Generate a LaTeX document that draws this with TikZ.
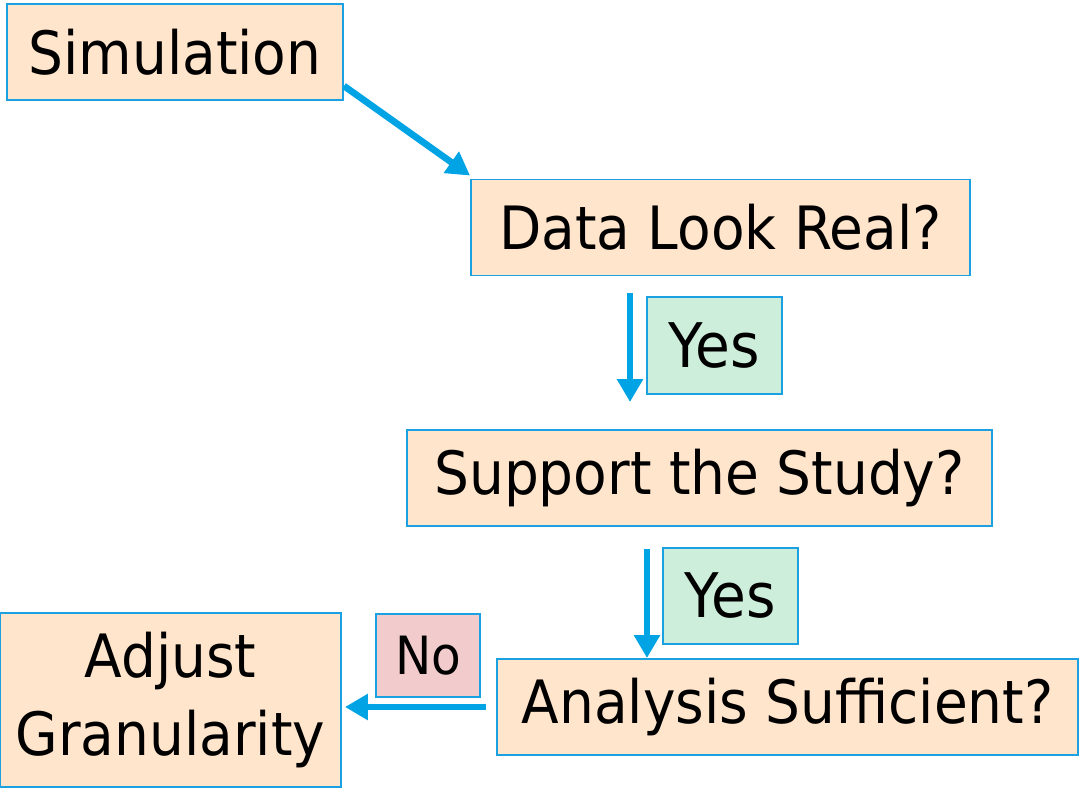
\documentclass[tikz,border=0pt]{standalone}
\usepackage{fontspec}
\setmainfont{DejaVu Sans}[FakeStretch=0.92]
\usetikzlibrary{calc,arrows.meta}

\definecolor{boxfill}{HTML}{FFE5CC}
\definecolor{boxline}{HTML}{1BA1E2}
\definecolor{arrowblue}{HTML}{00A3E4}
\definecolor{yesfill}{HTML}{CCEEDA}
\definecolor{nofill}{HTML}{F2CCCC}

\tikzset{
    stepbox/.style={draw=boxline, line width=1.1pt, fill=boxfill, inner sep=0pt,
        minimum height=1.92cm, font=\fontsize{34}{40}\selectfont},
    answer/.style={draw=boxline, line width=1.1pt, inner sep=0pt,
        font=\fontsize{35}{40}\selectfont},
    flow/.style={arrowblue, line width=3.8pt, -{Triangle[length=0.46cm,width=0.5cm]}}
}

\begin{document}
\begin{tikzpicture}
    \useasboundingbox (0,0) rectangle (21.78,-15.88);

    \node[stepbox, minimum width=6.72cm] (sim) at (3.50,-1.04) {Simulation};
    \node[stepbox, minimum width=9.98cm] (data) at (14.41,-4.55) {Data Look Real?};
    \node[stepbox, minimum width=11.70cm] (support) at (13.99,-9.56) {Support the Study?};
    \node[stepbox, minimum width=11.62cm] (analysis) at (15.75,-14.14) {Analysis Sufficient?};
    \node[stepbox, minimum width=6.82cm, minimum height=3.48cm, align=center,
        font=\fontsize{34}{44}\selectfont] (adjust) at (3.41,-14.00) {Adjust\\Granularity};

    \node[answer, fill=yesfill, minimum width=2.70cm, minimum height=1.94cm] (yes1) at (14.29,-6.91) {Yes};
    \node[answer, fill=yesfill, minimum width=2.70cm, minimum height=1.92cm] (yes2) at (14.61,-11.92) {Yes};
    \node[answer, fill=nofill, minimum width=2.08cm, minimum height=1.66cm,
        font=\fontsize{30}{36}\selectfont] (no) at (8.56,-13.11) {No};

    \draw[flow] ([yshift=0.3cm]sim.south east) -- ([yshift=0.06cm]data.north west);
    \draw[flow, shorten <=0.34cm, shorten >=0.54cm] ([xshift=-1.81cm]data.south) -- ([xshift=-1.81cm]data.south |- support.north);
    \draw[flow, shorten <=0.44cm] ([xshift=-1.05cm]support.south) -- ([xshift=-1.05cm]support.south |- analysis.north);
    \draw[flow, shorten <=0.2cm, shorten >=0.06cm] (analysis.west) -- (analysis.west -| adjust.east);
\end{tikzpicture}
\end{document}
